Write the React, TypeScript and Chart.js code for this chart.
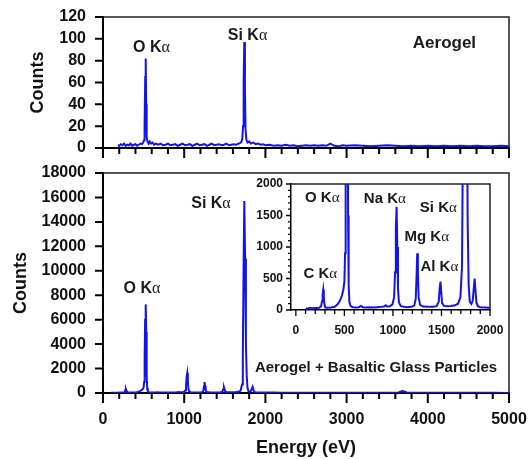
import React, { useEffect, useRef } from 'react';
import { Chart, registerables } from 'chart.js';

Chart.register(...registerables);

// ---------- Data ----------
const aerogelEnergy = [
  185, 200, 220, 240, 260, 280, 300, 320, 340, 360, 380, 400, 420, 440, 460, 480, 495, 505, 512, 520, 526, 532,
  538, 548, 560, 575, 590, 610, 630, 650, 680, 710, 740, 770, 800, 830, 860, 890, 920, 950, 980, 1010, 1040, 1070,
  1100, 1130, 1160, 1190, 1220, 1250, 1280, 1310, 1340, 1370, 1400, 1430, 1460, 1490, 1520, 1550, 1580, 1610, 1640,
  1670, 1700, 1715, 1725, 1732, 1740, 1748, 1755, 1765, 1780, 1800, 1820, 1850, 1880, 1910, 1940, 1970, 2000, 2050,
  2100, 2150, 2200, 2250, 2300, 2350, 2400, 2450, 2500, 2550, 2600, 2650, 2700, 2750, 2800, 2850, 2900, 2950, 3000,
  3100, 3200, 3300, 3400, 3500, 3600, 3700, 3800, 3900, 4000, 4100, 4200, 4300, 4400, 4500, 4600, 4700, 4800, 4900,
  5000,
];
const aerogelCounts = [
  3, 2, 3.5, 2.5, 4, 2, 3, 2.5, 4, 2, 3, 3.5, 2, 3, 4, 3.5, 5, 7, 20, 65, 82, 40,
  10, 6, 4, 6, 4, 5, 3, 4, 3, 4, 2.5, 3, 4, 2.5, 3, 3.5, 2, 3, 4, 2.5, 3, 3.5,
  2, 3, 4, 2.5, 3, 3.5, 2, 3, 4, 2.5, 3, 3.5, 2.5, 3, 4, 2.5, 3, 3.5, 3,
  4, 5, 8, 20, 60, 97, 55, 18, 8, 5, 6, 4, 5, 3.5, 4, 3, 3.5, 2.5, 3,
  2, 2.5, 2, 3, 2, 2.5, 1.5, 2, 2.5, 2, 2.5, 2, 2.5, 2, 4, 2, 1.5, 2.5, 2,
  2.5, 2, 1.5, 2, 2.5, 2, 1.5, 2, 1.5, 2, 1.5, 2, 1.5, 2, 1.5, 2, 1.5, 1.5, 2,
  1.5,
];

const basaltEnergy = [
  100, 120, 150, 180, 210, 240, 260, 270, 276, 282, 288, 295, 305, 330, 360, 400, 430, 455, 475, 490, 500, 507,
  513, 519, 526, 532, 538, 544, 552, 565, 590, 620, 650, 670, 690, 720, 760, 800, 840, 880, 910, 925, 940, 970,
  995, 1012, 1022, 1030, 1038, 1045, 1052, 1062, 1080, 1110, 1150, 1190, 1220, 1235, 1244, 1250, 1257, 1265, 1280,
  1310, 1360, 1410, 1450, 1472, 1482, 1490, 1497, 1506, 1525, 1560, 1600, 1640, 1670, 1695, 1712, 1722, 1731, 1740,
  1750, 1760, 1770, 1780, 1792, 1808, 1822, 1832, 1842, 1850, 1860, 1875, 1900, 1950, 2000, 2100, 2200, 2350, 2500,
  2650, 2800, 3000, 3200, 3400, 3550, 3640, 3670, 3690, 3710, 3740, 3800, 4000, 4200, 4400, 4600, 4800, 5000,
];
const basaltCounts = [
  15, 25, 30, 28, 32, 35, 60, 140, 250, 320, 200, 80, 40, 35, 40, 50, 90, 150, 230, 330, 450, 900,
  3000, 6000, 7250, 5000, 1500, 400, 120, 60, 45, 40, 45, 65, 45, 40, 45, 40, 45, 50, 55, 75, 55, 60,
  90, 200, 600, 1300, 1640, 1000, 350, 120, 65, 50, 45, 50, 70, 180, 550, 900, 600, 200, 80,
  55, 50, 50, 60, 130, 350, 450, 300, 110, 65, 60, 65, 75, 100, 200, 700, 3000, 10000, 15700,
  11000, 4000, 1400, 400, 130, 95, 150, 330, 500, 320, 120, 60, 45, 40, 35, 35, 30, 30, 28,
  25, 25, 22, 22, 20, 22, 50, 120, 160, 120, 40, 20, 18, 15, 15, 12, 12, 10,
];

const aerogelYTicks = [0, 20, 40, 60, 80, 100, 120];
const basaltYTicks = [0, 2000, 4000, 6000, 8000, 10000, 12000, 14000, 16000, 18000];

const range = (a: number, b: number, s: number) => {
  const out: number[] = [];
  for (let v = a; v <= b + 1e-9; v += s) out.push(v);
  return out;
};
const mainXTicks = range(0, 5000, 200);
const insetXTicks = range(0, 2000, 100);
const insetYTicks = range(0, 2000, 100);

type Label = { text: string; x: number; y: number; size: number };

const aerogelLabels: Label[] = [
  { text: 'O Kα', x: 597, y: 91.6, size: 16 },
  { text: 'Si Kα', x: 1780, y: 103, size: 16 },
  { text: 'Aerogel', x: 4205, y: 96, size: 17 },
];
const basaltLabels: Label[] = [
  { text: 'O Kα', x: 480, y: 8566, size: 16 },
  { text: 'Si Kα', x: 1330, y: 15520, size: 16 },
  { text: 'Aerogel + Basaltic Glass Particles', x: 3362, y: 2021, size: 15 },
];
const insetLabels: Label[] = [
  { text: 'O Kα', x: 272, y: 1773, size: 15 },
  { text: 'C Kα', x: 252, y: 571, size: 15 },
  { text: 'Na Kα', x: 917, y: 1757, size: 15 },
  { text: 'Si Kα', x: 1468, y: 1624, size: 15 },
  { text: 'Mg Kα', x: 1349, y: 1154, size: 15 },
  { text: 'Al Kα', x: 1478, y: 687, size: 15 },
];

// ---------- Styling ----------
const SANS = '"Liberation Sans", Arial, Helvetica, sans-serif';
const SERIF = '"Liberation Serif", "DejaVu Serif", serif';
const BLUE = '#1414e6';
const INK = '#111';

type Decor = {
  labels: Label[];
  xMajor: number;
  xMajorLen: number;
  xMinorLen: number;
  yMajor: number;
  yMajorLen: number;
  yMinorLen: number;
  tickWidth: number;
  frameWidth: number;
  xLabelEvery: number | null;
  yLabelEvery: number;
  tickFont: number;
  xLabelOffset: number;
  yLabelOffset: number;
  yTitle?: { text: string; offset: number };
  xTitle?: { text: string; offset: number };
};

function drawLabel(ctx: CanvasRenderingContext2D, text: string, cx: number, cy: number, size: number) {
  const parts = text.split(/(α)/).filter((p) => p.length > 0);
  const fonts = parts.map((p) => (p === 'α' ? `${size}px ${SERIF}` : `bold ${size}px ${SANS}`));
  const widths = parts.map((p, i) => {
    ctx.font = fonts[i];
    return ctx.measureText(p).width;
  });
  const total = widths.reduce((a, b) => a + b, 0);
  let x = cx - total / 2;
  ctx.textBaseline = 'middle';
  ctx.textAlign = 'left';
  ctx.fillStyle = '#1a1a1a';
  parts.forEach((p, i) => {
    ctx.font = fonts[i];
    ctx.fillText(p, x, cy);
    x += widths[i];
  });
}

const isMult = (v: number, m: number) => Math.abs(v % m) < 1e-6;

function makeDecor(d: Decor) {
  return {
    id: 'decor',
    beforeDatasetsDraw(chart: any) {
      const { ctx, chartArea: a } = chart;
      const xs = chart.scales.x;
      const ys = chart.scales.y;
      ctx.save();
      // frame (top and right)
      ctx.strokeStyle = '#222';
      ctx.lineWidth = d.frameWidth;
      ctx.beginPath();
      ctx.moveTo(a.left, a.top);
      ctx.lineTo(a.right, a.top);
      ctx.lineTo(a.right, a.bottom);
      ctx.stroke();
      // tick marks
      ctx.strokeStyle = '#000';
      ctx.lineWidth = d.tickWidth;
      ctx.beginPath();
      for (const t of xs.ticks) {
        const px = xs.getPixelForValue(t.value);
        const len = isMult(t.value, d.xMajor) ? d.xMajorLen : d.xMinorLen;
        ctx.moveTo(px, a.bottom);
        ctx.lineTo(px, a.bottom + len);
      }
      for (const t of ys.ticks) {
        const py = ys.getPixelForValue(t.value);
        const len = isMult(t.value, d.yMajor) ? d.yMajorLen : d.yMinorLen;
        ctx.moveTo(a.left - len, py);
        ctx.lineTo(a.left, py);
      }
      ctx.stroke();
      // tick labels
      ctx.fillStyle = INK;
      ctx.font = `bold ${d.tickFont}px ${SANS}`;
      ctx.textBaseline = 'middle';
      if (d.xLabelEvery !== null) {
        ctx.textAlign = 'center';
        for (const t of xs.ticks) {
          if (!isMult(t.value, d.xLabelEvery)) continue;
          ctx.fillText(String(t.value), xs.getPixelForValue(t.value), a.bottom + d.xLabelOffset);
        }
      }
      ctx.textAlign = 'right';
      for (const t of ys.ticks) {
        if (!isMult(t.value, d.yLabelEvery)) continue;
        ctx.fillText(String(t.value), a.left - d.yLabelOffset, ys.getPixelForValue(t.value));
      }
      // axis titles
      ctx.font = `bold 18px ${SANS}`;
      ctx.textAlign = 'center';
      if (d.xTitle) {
        ctx.fillText(d.xTitle.text, (a.left + a.right) / 2, a.bottom + d.xTitle.offset);
      }
      if (d.yTitle) {
        ctx.save();
        ctx.translate(a.left - d.yTitle.offset, (a.top + a.bottom) / 2);
        ctx.rotate(-Math.PI / 2);
        ctx.fillText(d.yTitle.text, 0, 0);
        ctx.restore();
      }
      ctx.restore();
    },
    afterDatasetsDraw(chart: any) {
      const { ctx } = chart;
      const xs = chart.scales.x;
      const ys = chart.scales.y;
      ctx.save();
      for (const l of d.labels) {
        drawLabel(ctx, l.text, xs.getPixelForValue(l.x), ys.getPixelForValue(l.y), l.size);
      }
      ctx.restore();
    },
  };
}

type PanelCfg = {
  energy: number[];
  counts: number[];
  xMin: number;
  xMax: number;
  yMax: number;
  xTicks: number[];
  yTicks: number[];
  padding: { top: number; right: number; left: number; bottom: number };
  yWidth: number;
  xHeight: number;
  lineWidth: number;
  axisWidth: number;
  decor: Decor;
};

function buildChart(canvas: HTMLCanvasElement, c: PanelCfg) {
  const data = c.energy.map((e, i) => ({ x: e, y: c.counts[i] }));
  return new Chart(canvas, {
    type: 'line',
    data: {
      datasets: [
        {
          data,
          borderColor: BLUE,
          borderWidth: c.lineWidth,
          pointRadius: 0,
          tension: 0,
          fill: false,
        },
      ],
    },
    options: {
      animation: false,
      responsive: false,
      events: [],
      parsing: false as any,
      layout: { padding: c.padding },
      plugins: { legend: { display: false }, tooltip: { enabled: false }, title: { display: false } },
      scales: {
        x: {
          type: 'linear',
          min: c.xMin,
          max: c.xMax,
          grid: { display: false, drawTicks: false },
          border: { display: true, color: '#000', width: c.axisWidth },
          afterBuildTicks: (s: any) => {
            s.ticks = c.xTicks.map((v) => ({ value: v }));
          },
          afterFit: (s: any) => {
            s.height = c.xHeight;
          },
          ticks: { display: false },
          title: { display: false },
        },
        y: {
          type: 'linear',
          min: 0,
          max: c.yMax,
          grid: { display: false, drawTicks: false },
          border: { display: true, color: '#000', width: c.axisWidth },
          afterBuildTicks: (s: any) => {
            s.ticks = c.yTicks.map((v) => ({ value: v }));
          },
          afterFit: (s: any) => {
            s.width = c.yWidth;
          },
          ticks: { display: false },
          title: { display: false },
        },
      },
    } as any,
    plugins: [makeDecor(c.decor)],
  });
}

export default function App() {
  const topRef = useRef<HTMLCanvasElement>(null);
  const botRef = useRef<HTMLCanvasElement>(null);
  const insRef = useRef<HTMLCanvasElement>(null);

  useEffect(() => {
    const charts: Chart[] = [];
    if (topRef.current) {
      charts.push(
        buildChart(topRef.current, {
          energy: aerogelEnergy,
          counts: aerogelCounts,
          xMin: 0,
          xMax: 5000,
          yMax: 120,
          xTicks: mainXTicks,
          yTicks: aerogelYTicks,
          padding: { top: 17, right: 19, left: 0, bottom: 0 },
          yWidth: 103,
          xHeight: 12,
          lineWidth: 2,
          axisWidth: 2,
          decor: {
            labels: aerogelLabels,
            xMajor: 1000,
            xMajorLen: 10,
            xMinorLen: 6,
            yMajor: 20,
            yMajorLen: 8,
            yMinorLen: 8,
            tickWidth: 2,
            frameWidth: 1.5,
            xLabelEvery: null,
            yLabelEvery: 20,
            tickFont: 16,
            xLabelOffset: 27,
            yLabelOffset: 17,
            yTitle: { text: 'Counts', offset: 65 },
          },
        })
      );
    }
    if (botRef.current) {
      charts.push(
        buildChart(botRef.current, {
          energy: basaltEnergy,
          counts: basaltCounts,
          xMin: 0,
          xMax: 5000,
          yMax: 18000,
          xTicks: mainXTicks,
          yTicks: basaltYTicks,
          padding: { top: 13, right: 19, left: 0, bottom: 0 },
          yWidth: 103,
          xHeight: 66,
          lineWidth: 2,
          axisWidth: 2,
          decor: {
            labels: basaltLabels,
            xMajor: 1000,
            xMajorLen: 10,
            xMinorLen: 6,
            yMajor: 2000,
            yMajorLen: 8,
            yMinorLen: 8,
            tickWidth: 2,
            frameWidth: 1.5,
            xLabelEvery: 1000,
            yLabelEvery: 2000,
            tickFont: 16,
            xLabelOffset: 27,
            yLabelOffset: 17,
            yTitle: { text: 'Counts', offset: 82 },
            xTitle: { text: 'Energy (eV)', offset: 55 },
          },
        })
      );
    }
    if (insRef.current) {
      charts.push(
        buildChart(insRef.current, {
          energy: basaltEnergy,
          counts: basaltCounts,
          xMin: -50,
          xMax: 2000,
          yMax: 2000,
          xTicks: insetXTicks,
          yTicks: insetYTicks,
          padding: { top: 8, right: 18, left: 0, bottom: 0 },
          yWidth: 41,
          xHeight: 36,
          lineWidth: 2,
          axisWidth: 1.5,
          decor: {
            labels: insetLabels,
            xMajor: 500,
            xMajorLen: 6,
            xMinorLen: 4,
            yMajor: 500,
            yMajorLen: 5,
            yMinorLen: 3,
            tickWidth: 1.3,
            frameWidth: 1.5,
            xLabelEvery: 500,
            yLabelEvery: 500,
            tickFont: 12,
            xLabelOffset: 21,
            yLabelOffset: 8,
          },
        })
      );
    }
    return () => charts.forEach((ch) => ch.destroy());
  }, []);

  return (
    <div style={{ position: 'absolute', left: 0, top: 0, width: 528, height: 459, background: '#fff', overflow: 'hidden' }}>
      <canvas ref={topRef} width={528} height={160} style={{ position: 'absolute', left: 0, top: 0, width: 528, height: 160 }} />
      <canvas ref={botRef} width={528} height={299} style={{ position: 'absolute', left: 0, top: 160, width: 528, height: 299 }} />
      <canvas ref={insRef} width={258} height={170} style={{ position: 'absolute', left: 250, top: 176, width: 258, height: 170 }} />
    </div>
  );
}
